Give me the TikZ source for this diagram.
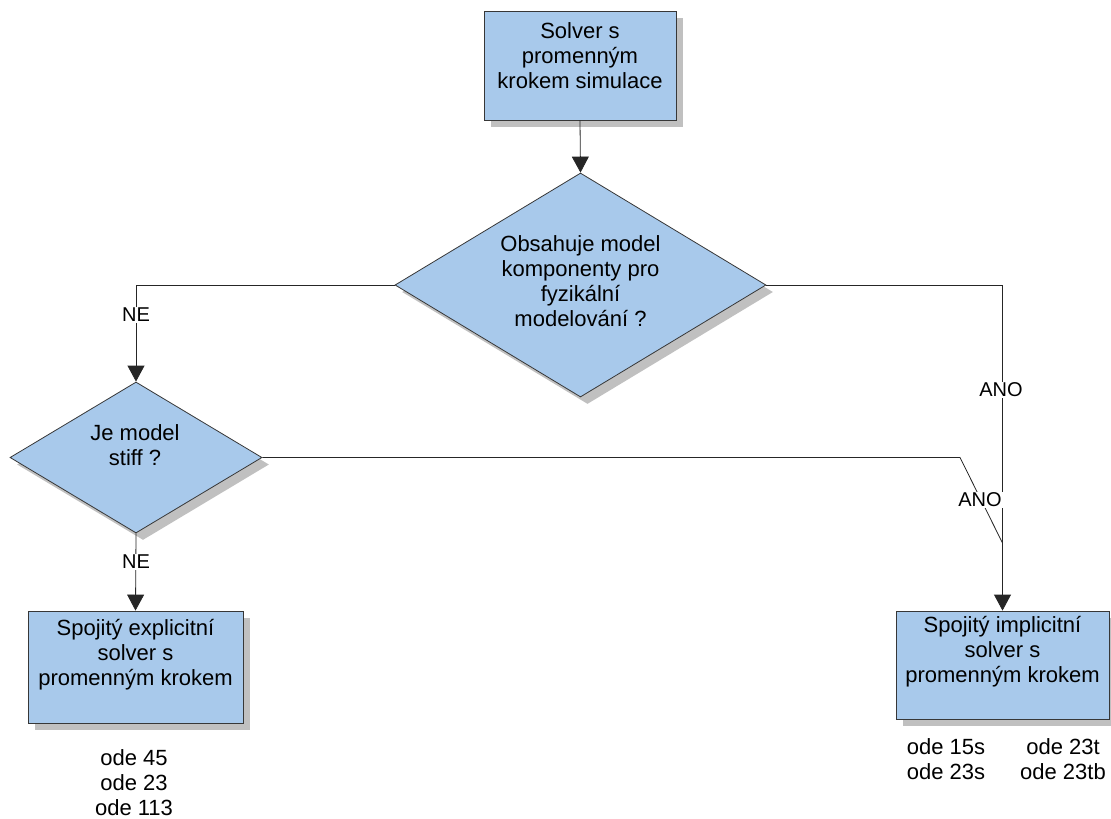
\documentclass[tikz,border=0pt]{standalone}
\usepackage{fontspec}
\setmainfont{Liberation Sans}
\usetikzlibrary{shapes.geometric,shadows,arrows.meta}
\definecolor{boxfill}{RGB}{168,201,235}
\definecolor{boxline}{RGB}{55,55,55}
\definecolor{shadowgray}{RGB}{192,192,192}
\begin{document}
\begin{tikzpicture}[x=1pt,y=-1pt,
  shp/.style={draw=boxline,fill=boxfill,line width=0.8pt,inner sep=0pt,
    drop shadow={shadow xshift=7pt,shadow yshift=-7pt,fill=shadowgray,opacity=1}},
  boxnode/.style={shp,rectangle},
  dia/.style={shp,diamond},
  txt/.style={align=center,inner sep=0pt,font=\fontsize{22}{25}\selectfont},
  lbl/.style={fill=white,inner sep=1pt,font=\fontsize{20}{24}\selectfont},
  conn/.style={line width=0.8pt,draw=black!85},
  arr/.style={conn,-{Triangle[width=17pt,length=16pt]}}]
\useasboundingbox (0,0) rectangle (1111,819);

\node[boxnode,minimum width=192pt,minimum height=109pt] (top) at (580,65.5) {};
\node[txt] (toptxt) at (580,56) {Solver s\\promenným\\krokem simulace};

\node[dia,minimum width=371pt,minimum height=224pt] (d1) at (580.5,285) {};
\node[txt] (d1txt) at (580.5,281) {Obsahuje model\\komponenty pro\\fyzikální\\modelování ?};

\node[dia,minimum width=252pt,minimum height=151pt] (d2) at (136,457.5) {};
\node[txt] (d2txt) at (135,445) {Je model\\stiff ?};

\node[boxnode,minimum width=215pt,minimum height=112pt] (expl) at (135.5,667) {};
\node[txt] (expltxt) at (135.5,655) {Spojitý explicitní\\solver s\\promenným krokem};

\node[boxnode,minimum width=213pt,minimum height=108pt] (impl) at (1002.5,665) {};
\node[txt] (impltxt) at (1002.5,652) {Spojitý implicitní\\solver s\\promenným krokem};

\node[txt] (odeL) at (134,783) {ode 45\\ode 23\\ode 113};
\node[txt] (odeR1) at (946,759.5) {ode 15s\\ode 23s};
\node[txt] (odeR2) at (1063,759.5) {ode 23t\\ode 23tb};

% connectors
\draw[arr] (top.south) -- (d1.north);
\draw[arr] (d1.west) -| (d2.north);
\draw[arr] (d2.south) -- (expl.north);
\draw[arr] (d1.east) -| (impl.north);
\coordinate (bend) at (960,457.5);
\coordinate (merge) at (1002.5,543);
\draw[conn] (d2.east) -- (bend) -- (merge);

% labels
\node[lbl] (ne1) at (136,315) {NE};
\node[lbl] (ne2) at (136,562) {NE};
\node[lbl] (ano1) at (1001,390) {ANO};
\node[lbl] (ano2) at (980,500) {ANO};
\end{tikzpicture}
\end{document}
